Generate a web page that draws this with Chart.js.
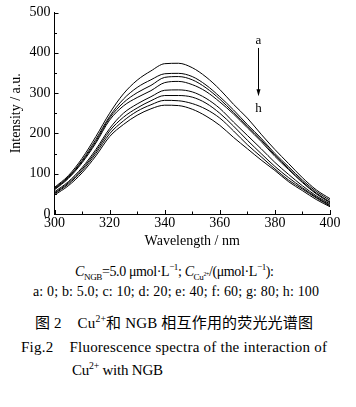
<!DOCTYPE html>
<html><head><meta charset="utf-8">
<script src="https://cdn.jsdelivr.net/npm/chart.js@4"></script>
<style>
html,body{margin:0;padding:0;background:#fff;}
#wrap{position:relative;width:356px;height:407px;overflow:hidden;background:#fff;}
#c{position:absolute;left:0;top:0;}
.cap{position:absolute;white-space:nowrap;color:#000;font-family:"Liberation Serif","Times New Roman",serif;line-height:20px;height:20px;}
.cap sub,.cap sup{font-size:65%;line-height:0;}
.cjk{font-family:"Noto Sans CJK SC","Liberation Serif",serif;}
</style></head>
<body>
<div id="wrap">
<canvas id="c" width="356" height="250"></canvas>
<div class="cap" id="l1" style="top:262px;font-size:14px;"><i>C</i><sub>NGB</sub>=5.0 μmol·L<sup>−1</sup>; <i>C</i><sub>Cu<sup>2+</sup></sub>/(μmol·L<sup>−1</sup>):</div>
<div class="cap" id="l2" style="top:282px;font-size:14px;">a: 0; b: 5.0; c: 10; d: 20; e: 40; f: 60; g: 80; h: 100</div>
<div class="cap" id="l3" style="top:312px;font-size:15px;"><span class="cjk">图</span> 2&nbsp;&nbsp;&nbsp;&nbsp;Cu<sup>2+</sup><span class="cjk">和</span> NGB <span class="cjk">相互作用的荧光光谱图</span></div>
<div class="cap" id="l4" style="top:337px;font-size:15px;">Fig.2&nbsp;&nbsp;&nbsp;&nbsp;Fluorescence spectra of the interaction of</div>
<div class="cap" id="l5" style="top:360px;font-size:15px;left:72px;">Cu<sup>2+</sup> with NGB</div>
</div>
<script>
const wavelengths = [300,305,310,315,320,325,330,335,340,345,350,355,360,365,370,375,380,385,390,395,400];
const seriesLabels = ['a','b','c','d','e','f','g','h'];
const seriesA = [66,95,138,192,250,298,332,355,373,374,363,340,309,272,238,198,160,125,90,60,38];
const seriesB = [64,92,133,185,242,285,314,333,348,349,341,320,291,258,222,188,150,117,84,56,34];
const seriesC = [62,90,130,180,238,276,301,319,339,341,333,313,285,252,218,184,146,113,80,52,30];
const seriesD = [60,88,127,176,233,268,289,306,326,329,321,304,278,248,214,180,143,110,78,50,28];
const seriesE = [55,80,115,160,212,250,273,291,307,308,303,287,262,228,195,162,128,98,70,45,25];
const seriesF = [52,77,111,155,206,240,263,281,294,294,290,275,250,218,183,150,118,90,65,42,22];
const seriesG = [50,74,107,150,199,231,255,271,282,281,274,260,238,206,172,142,112,84,62,40,20];
const seriesH = [47,70,102,144,192,222,245,261,270,269,260,243,220,190,162,134,108,80,58,36,18];
const allSeries = [seriesA,seriesB,seriesC,seriesD,seriesE,seriesF,seriesG,seriesH];
const xTickValues = [300,320,340,360,380,400];
const yTickValues = [0,100,200,300,400,500];
const xMinorStep = 10, yMinorStep = 50;
const arrowTop = 'a', arrowBottom = 'h';
const arrowAt = {x:373.8, yLabelTop:430, yStart:412, yEnd:292, yLabelBottom:262};

const serif = '"Liberation Serif","Times New Roman",serif';

const inwardTicks = {
  id:'inwardTicks',
  afterDraw(chart){
    const {ctx, scales:{x,y}, chartArea:a} = chart;
    ctx.save();
    ctx.strokeStyle='#000'; ctx.lineWidth=1;
    ctx.beginPath();
    for(let v=y.min; v<=y.max; v+=yMinorStep){
      const py=Math.round(y.getPixelForValue(v))+0.5;
      const len = yTickValues.includes(v)?4:2.5;
      ctx.moveTo(a.left, py); ctx.lineTo(a.left+len, py);
    }
    for(let v=x.min; v<=x.max; v+=xMinorStep){
      const px=Math.round(x.getPixelForValue(v))+0.5;
      const len = xTickValues.includes(v)?4:2.5;
      ctx.moveTo(px, a.bottom); ctx.lineTo(px, a.bottom-len);
    }
    ctx.stroke();
    const ax = Math.round(x.getPixelForValue(arrowAt.x))+0.5;
    ctx.fillStyle='#000';
    ctx.font='13px '+serif;
    ctx.textAlign='center'; ctx.textBaseline='middle';
    ctx.fillText(arrowTop, ax, y.getPixelForValue(arrowAt.yLabelTop));
    ctx.fillText(arrowBottom, ax, y.getPixelForValue(arrowAt.yLabelBottom));
    const y1=y.getPixelForValue(arrowAt.yStart), y2=y.getPixelForValue(arrowAt.yEnd);
    ctx.beginPath(); ctx.moveTo(ax,y1); ctx.lineTo(ax,y2-4); ctx.stroke();
    ctx.beginPath(); ctx.moveTo(ax,y2); ctx.lineTo(ax-2,y2-7); ctx.lineTo(ax+2,y2-7); ctx.closePath(); ctx.fill();
    ctx.restore();
  }
};

new Chart(document.getElementById('c'), {
  type:'line',
  data:{
    datasets: allSeries.map((s,i)=>({
      label: seriesLabels[i],
      data: wavelengths.map((w,j)=>({x:w,y:s[j]})),
      borderColor:'#000', borderWidth:1, pointRadius:0,
      cubicInterpolationMode:'monotone', fill:false
    }))
  },
  options:{
    responsive:false, animation:false, devicePixelRatio:1,
    layout:{padding:{left:0,right:26,top:12.5,bottom:0}},
    plugins:{legend:{display:false}, tooltip:{enabled:false}},
    scales:{
      x:{type:'linear', min:300, max:400,
        afterBuildTicks(s){ s.ticks = xTickValues.map(v=>({value:v})); },
        afterFit(s){ s.height=36; },
        ticks:{color:'#000', font:{family:serif,size:14}, padding:1, maxRotation:0},
        grid:{display:false, drawTicks:false},
        border:{display:true,color:'#000',width:1},
        title:{display:true,text:'Wavelength / nm',color:'#000',font:{family:serif,size:14},padding:{top:0,bottom:0}}
      },
      y:{type:'linear', min:0, max:500,
        afterBuildTicks(s){ s.ticks = yTickValues.map(v=>({value:v})); },
        afterFit(s){ s.width=54.5; },
        ticks:{color:'#000', font:{family:serif,size:14}, padding:4},
        grid:{display:false, drawTicks:false},
        border:{display:true,color:'#000',width:1},
        title:{display:true,text:'Intensity / a.u.',color:'#000',font:{family:serif,size:14},padding:{top:7.6,bottom:0}}
      }
    }
  },
  plugins:[inwardTicks]
});

function place(id, left, right){
  const el=document.getElementById(id);
  el.style.left=left+'px';
  const w=el.getBoundingClientRect().width;
  const n=el.textContent.length-1;
  if(n>0){ el.style.letterSpacing=((right-left-w)/n)+'px'; }
}
place('l1',75,274);
place('l2',33,319);
place('l3',35,313);
place('l4',21,327);
place('l5',72,163);
</script>
</body></html>
